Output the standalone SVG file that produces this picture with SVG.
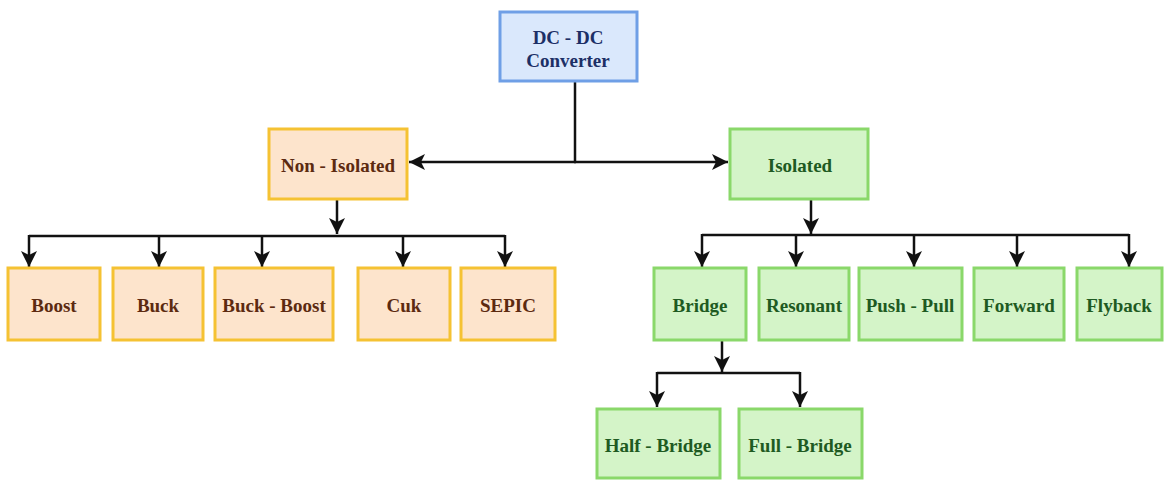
<svg xmlns="http://www.w3.org/2000/svg" width="1164" height="480" viewBox="0 0 1164 480">
  <style>
    .box { stroke-width: 3; }
    .blue { fill: #dae8fc; stroke: #6f9fe6; }
    .orange { fill: #fde4cc; stroke: #f5c233; }
    .green { fill: #d4f4c8; stroke: #8ad86a; }
    text { font-family: "Liberation Serif", "Times New Roman", serif; font-weight: bold; font-size: 19px; text-anchor: middle; dominant-baseline: central; }
    .tb { fill: #1c2f66; }
    .to { fill: #5c2a10; }
    .tg { fill: #1e5a22; }
    .conn { fill: none; stroke: #111; stroke-width: 2.5; }
  </style>
  <defs>
    <marker id="arr" markerUnits="userSpaceOnUse" markerWidth="18" markerHeight="18" viewBox="0 0 18 18" refX="16" refY="9" orient="auto">
      <path d="M0,1 L16,9 L0,17 L4,9 z" fill="#111"/>
    </marker>
  </defs>
  <rect width="1164" height="480" fill="#ffffff"/>

  <g id="connectors">
    <path class="conn" d="M575,82 V162"/>
    <path class="conn" d="M576,162 H409" marker-end="url(#arr)"/>
    <path class="conn" d="M574,162 H728" marker-end="url(#arr)"/>

    <path class="conn" d="M337,199 V234" marker-end="url(#arr)"/>
    <path class="conn" d="M29,236 H505"/>
    <path class="conn" d="M29,235 V267" marker-end="url(#arr)"/>
    <path class="conn" d="M159,235 V267" marker-end="url(#arr)"/>
    <path class="conn" d="M262,235 V267" marker-end="url(#arr)"/>
    <path class="conn" d="M403,235 V267" marker-end="url(#arr)"/>
    <path class="conn" d="M505,235 V267" marker-end="url(#arr)"/>

    <path class="conn" d="M811,199 V234" marker-end="url(#arr)"/>
    <path class="conn" d="M702,235 H1129"/>
    <path class="conn" d="M702,234 V267" marker-end="url(#arr)"/>
    <path class="conn" d="M796,234 V267" marker-end="url(#arr)"/>
    <path class="conn" d="M914,234 V267" marker-end="url(#arr)"/>
    <path class="conn" d="M1017,234 V267" marker-end="url(#arr)"/>
    <path class="conn" d="M1129,234 V267" marker-end="url(#arr)"/>

    <path class="conn" d="M722,340 V372" marker-end="url(#arr)"/>
    <path class="conn" d="M657,373 H800"/>
    <path class="conn" d="M657,372 V407" marker-end="url(#arr)"/>
    <path class="conn" d="M800,372 V407" marker-end="url(#arr)"/>
  </g>

  <g id="dcdc">
    <rect class="box blue" x="500" y="12" width="137" height="69"/>
    <text class="tb" x="568" y="37">DC - DC</text>
    <text class="tb" x="568" y="60">Converter</text>
  </g>
  <g id="non-isolated">
    <rect class="box orange" x="269" y="129" width="138" height="70"/>
    <text class="to" x="338" y="165">Non - Isolated</text>
  </g>
  <g id="isolated">
    <rect class="box green" x="730" y="129" width="138" height="70"/>
    <text class="tg" x="800" y="165">Isolated</text>
  </g>

  <g id="boost">
    <rect class="box orange" x="8" y="268" width="92" height="72"/>
    <text class="to" x="54" y="305">Boost</text>
  </g>
  <g id="buck">
    <rect class="box orange" x="113" y="268" width="90" height="72"/>
    <text class="to" x="158" y="305">Buck</text>
  </g>
  <g id="buck-boost">
    <rect class="box orange" x="215" y="268" width="118" height="72"/>
    <text class="to" x="274" y="305">Buck - Boost</text>
  </g>
  <g id="cuk">
    <rect class="box orange" x="358" y="268" width="92" height="72"/>
    <text class="to" x="404" y="305">Cuk</text>
  </g>
  <g id="sepic">
    <rect class="box orange" x="461" y="268" width="94" height="72"/>
    <text class="to" x="508" y="305">SEPIC</text>
  </g>

  <g id="bridge">
    <rect class="box green" x="654" y="268" width="92" height="72"/>
    <text class="tg" x="700" y="305">Bridge</text>
  </g>
  <g id="resonant">
    <rect class="box green" x="759" y="268" width="90" height="72"/>
    <text class="tg" x="804" y="305">Resonant</text>
  </g>
  <g id="push-pull">
    <rect class="box green" x="859" y="268" width="103" height="72"/>
    <text class="tg" x="910" y="305">Push - Pull</text>
  </g>
  <g id="forward">
    <rect class="box green" x="974" y="268" width="90" height="72"/>
    <text class="tg" x="1019" y="305">Forward</text>
  </g>
  <g id="flyback">
    <rect class="box green" x="1077" y="268" width="85" height="72"/>
    <text class="tg" x="1119" y="305">Flyback</text>
  </g>

  <g id="half-bridge">
    <rect class="box green" x="597" y="409" width="123" height="69"/>
    <text class="tg" x="658" y="445">Half - Bridge</text>
  </g>
  <g id="full-bridge">
    <rect class="box green" x="739" y="409" width="123" height="69"/>
    <text class="tg" x="800" y="445">Full - Bridge</text>
  </g>
</svg>
